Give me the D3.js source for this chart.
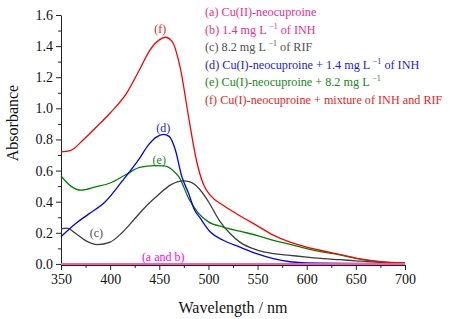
<!DOCTYPE html>
<html>
<head>
<meta charset="utf-8">
<script src="https://cdn.jsdelivr.net/npm/d3@7"></script>
<style>
  body { margin: 0; background: #fff; }
  svg text { font-family: "Liberation Serif", "Times New Roman", serif; }
</style>
</head>
<body>
<div id="chart"></div>
<script>
// wavelength (nm) / absorbance pairs
const waveA = [350, 400, 450, 500, 550, 600, 650, 700];
const absA  = [0, 0, 0, 0, 0, 0, 0, 0];
const waveB = [350, 400, 450, 500, 550, 600, 650, 700];
const absB  = [0, 0, 0, 0, 0, 0, 0, 0];

const waveC = [350, 356, 365, 375, 387, 400, 412, 425, 438, 450, 462, 474, 482, 491, 501, 511, 522, 532, 549, 566, 583, 600, 617, 634, 650, 675, 700];
const absC  = [0.225, 0.23, 0.195, 0.15, 0.124, 0.14, 0.2, 0.29, 0.38, 0.45, 0.51, 0.534, 0.525, 0.48, 0.39, 0.28, 0.195, 0.14, 0.09, 0.066, 0.055, 0.044, 0.034, 0.027, 0.02, 0.01, 0.005];

const waveD = [350, 365, 378, 395, 412, 429, 439, 447, 454, 460, 466, 473, 480, 486, 491, 502, 515, 532, 549, 566, 583, 600, 650, 700];
const absD  = [0.175, 0.26, 0.32, 0.4, 0.53, 0.67, 0.765, 0.815, 0.833, 0.82, 0.74, 0.56, 0.45, 0.345, 0.3, 0.205, 0.152, 0.108, 0.066, 0.034, 0.014, 0.006, 0.003, 0.002];

const waveE = [350, 360, 371, 385, 400, 415, 430, 445, 455, 464, 470, 480, 490, 500, 515, 532, 549, 566, 583, 600, 617, 634, 650, 675, 700];
const absE  = [0.565, 0.5, 0.474, 0.495, 0.52, 0.57, 0.62, 0.632, 0.63, 0.6, 0.56, 0.42, 0.325, 0.27, 0.237, 0.21, 0.184, 0.152, 0.126, 0.098, 0.076, 0.058, 0.035, 0.013, 0.005];

const waveF = [350, 360, 373, 386, 400, 417, 430, 440, 450, 456, 463, 471, 481, 488, 495, 502, 515, 532, 549, 566, 583, 600, 617, 634, 650, 675, 700];
const absF  = [0.72, 0.73, 0.8, 0.88, 0.97, 1.1, 1.25, 1.37, 1.44, 1.457, 1.43, 1.27, 0.9, 0.66, 0.51, 0.44, 0.377, 0.31, 0.248, 0.185, 0.14, 0.108, 0.083, 0.06, 0.037, 0.015, 0.005];

const xTicks = [350, 400, 450, 500, 550, 600, 650, 700];
const yTicks = [0, 0.2, 0.4, 0.6, 0.8, 1.0, 1.2, 1.4, 1.6];

const series = [
  { wave: waveC, abs: absC, color: "#3c3c3c", width: 1.3 },
  { wave: waveE, abs: absE, color: "#008000", width: 1.3 },
  { wave: waveD, abs: absD, color: "#0000ff", width: 1.3 },
  { wave: waveF, abs: absF, color: "#ff0000", width: 1.3 },
  { wave: waveA, abs: absA, color: "#ff00ff", width: 1.3 },
  { wave: waveB, abs: absB, color: "#ff5aa8", width: 2 }
];

// legend: each entry is [text, superscript, text after]
const legendItems = [
  { parts: ["(a) Cu(II)-neocuproine"], color: "#ee2e8c" },
  { parts: ["(b) 1.4 mg L ", "\u22121", " of INH"], color: "#ee2e8c" },
  { parts: ["(c) 8.2 mg L ", "\u22121", " of RIF"], color: "#505050" },
  { parts: ["(d) Cu(I)-neocuproine + 1.4 mg L ", "\u22121", " of INH"], color: "#1a1ae6" },
  { parts: ["(e) Cu(I)-neocuproine + 8.2 mg L ", "\u22121"], color: "#138a13" },
  { parts: ["(f) Cu(I)-neocuproine + mixture of INH and RIF"], color: "#ee1c24" }
];

const curveLabels = [
  { text: "(f)", x: 451, y: 1.51, color: "#ee1c24" },
  { text: "(d)", x: 454, y: 0.878, color: "#1a1ae6" },
  { text: "(e)", x: 450, y: 0.672, color: "#138a13" },
  { text: "(c)", x: 386, y: 0.2, color: "#505050" },
  { text: "(a and b)", x: 454, y: 0.044, color: "#ff00ff" }
];

const W = 450, H = 319;
const margin = { top: 15, right: 45, bottom: 54, left: 61 };

const svg = d3.select("#chart").append("svg")
  .attr("width", W)
  .attr("height", H);

const x = d3.scaleLinear().domain([350, 700]).range([margin.left, W - margin.right]);
const y = d3.scaleLinear().domain([-0.007, 1.6]).range([H - margin.bottom, margin.top]);

// minor ticks
svg.append("g")
  .attr("transform", `translate(0,${H - margin.bottom})`)
  .call(d3.axisBottom(x).tickValues(d3.range(375, 700, 50)).tickSize(3).tickFormat(""))
  .call(g => g.select(".domain").remove());
svg.append("g")
  .attr("transform", `translate(${margin.left},0)`)
  .call(d3.axisLeft(y).tickValues(d3.range(0.1, 1.6, 0.2)).tickSize(3).tickFormat(""))
  .call(g => g.select(".domain").remove());

const xAxis = svg.append("g")
  .attr("transform", `translate(0,${H - margin.bottom})`)
  .call(d3.axisBottom(x).tickValues(xTicks).tickSize(5).tickSizeOuter(0).tickPadding(4));
xAxis.selectAll("text").attr("font-size", 14).attr("fill", "#111");

const yAxis = svg.append("g")
  .attr("transform", `translate(${margin.left},0)`)
  .call(d3.axisLeft(y).tickValues(yTicks).tickSize(5).tickSizeOuter(0).tickPadding(3).tickFormat(d3.format(".1f")));
yAxis.selectAll("text").attr("font-size", 14).attr("fill", "#111");

svg.selectAll(".domain, .tick line").attr("stroke", "#222");

svg.append("text")
  .attr("x", (margin.left + W - margin.right) / 2)
  .attr("y", 313)
  .attr("text-anchor", "middle")
  .attr("font-size", 16)
  .attr("fill", "#111")
  .text("Wavelength / nm");

svg.append("text")
  .attr("transform", "translate(18,123) rotate(-90)")
  .attr("text-anchor", "middle")
  .attr("font-size", 16)
  .attr("fill", "#111")
  .text("Absorbance");

const line = d3.line()
  .curve(d3.curveMonotoneX)
  .x(d => x(d[0]))
  .y(d => y(d[1]));

svg.append("g")
  .selectAll("path")
  .data(series)
  .join("path")
  .attr("fill", "none")
  .attr("stroke", d => d.color)
  .attr("stroke-width", d => d.width)
  .attr("d", d => line(d3.zip(d.wave, d.abs)));

svg.append("g")
  .selectAll("text")
  .data(curveLabels)
  .join("text")
  .attr("x", d => x(d.x))
  .attr("y", d => y(d.y))
  .attr("dy", "0.35em")
  .attr("text-anchor", "middle")
  .attr("font-size", 12)
  .attr("fill", d => d.color)
  .text(d => d.text);

const legend = svg.append("g").attr("transform", "translate(205,16)");
legendItems.forEach((item, i) => {
  const t = legend.append("text")
    .attr("y", i * 17.5)
    .attr("font-size", 12.2)
    .attr("fill", item.color);
  item.parts.forEach((p, j) => {
    if (j === 1) {
      t.append("tspan").attr("dy", -5).attr("font-size", 8).text(p);
    } else if (j === 2) {
      t.append("tspan").attr("dy", 5).text(p);
    } else {
      t.append("tspan").text(p);
    }
  });
});
</script>
</body>
</html>
